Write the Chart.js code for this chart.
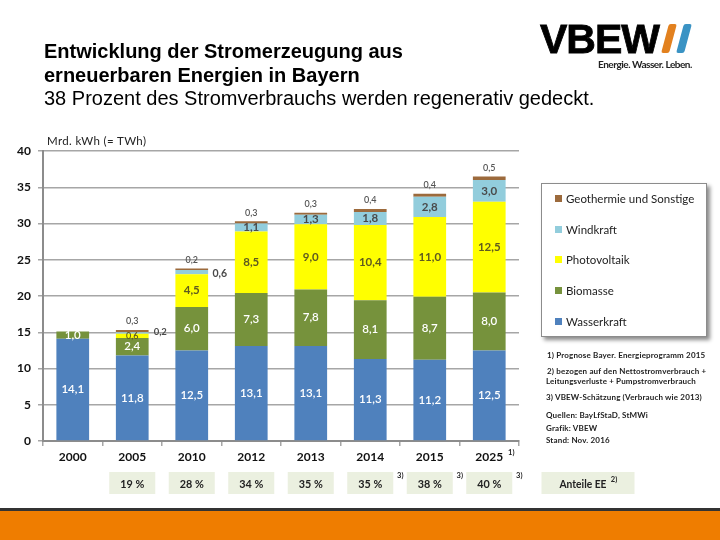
<!DOCTYPE html>
<html lang="de">

<head>
  <meta charset="UTF-8" />
  <title>Stromerzeugung Bayern</title>
  <script src="https://cdn.jsdelivr.net/npm/chart.js"></script>
  <style>
    body {
      margin: 0;
      background: #ffffff;
      font-family: Lato, sans-serif;
      color: #222222;
    }

    #stage {
      position: relative;
      width: 720px;
      height: 540px;
      overflow: hidden;
    }

    #stage canvas {
      position: absolute;
      left: 0;
      top: 0;
    }

    .title {
      position: absolute;
      left: 44px;
      top: 40px;
      font-family: 'Liberation Sans', sans-serif;
      font-size: 20px;
      line-height: 23.5px;
      color: #000000;
      white-space: nowrap;
    }

    .title b {
      display: block;
    }

    .logo-text {
      position: absolute;
      left: 540px;
      top: 14px;
      font-family: 'Liberation Sans', sans-serif;
      font-weight: 700;
      font-size: 41px;
      line-height: 50px;
      letter-spacing: -1px;
      color: #000000;
      -webkit-text-stroke: 0.8px #000000;
    }

    .logo-bar {
      position: absolute;
      top: 24px;
      width: 8px;
      height: 29px;
      border-radius: 2px;
      transform: skewX(-15deg);
    }

    .logo-tag {
      position: absolute;
      left: 598px;
      top: 58px;
      font-size: 10px;
      line-height: 13px;
      font-weight: 700;
      letter-spacing: -0.47px;
      white-space: nowrap;
    }

    .unit {
      position: absolute;
      left: 47px;
      top: 134px;
      font-size: 11.5px;
      line-height: 14px;
      letter-spacing: 0.35px;
      color: #222222;
    }

    #legend {
      position: absolute;
      left: 541px;
      top: 183px;
      width: 164px;
      height: 152px;
      border: 1px solid #8c8c8c;
      box-shadow: 3px 3px 4px #8a8a8a;
      background: #ffffff;
    }

    #legend div {
      position: absolute;
      left: 24px;
      font-size: 11.5px;
      line-height: 14px;
      letter-spacing: 0;
      white-space: nowrap;
    }

    #legend i {
      position: absolute;
      left: -11px;
      top: 3px;
      width: 7px;
      height: 7px;
    }

    .note {
      position: absolute;
      left: 546px;
      font-size: 8px;
      line-height: 10px;
      letter-spacing: 0.16px;
      font-weight: 700;
      color: #222222;
      white-space: nowrap;
    }

    .band {
      position: absolute;
      left: 0;
      top: 508px;
      width: 720px;
      height: 32px;
      background: #ef7d00;
      border-top: 3px solid #333333;
      box-sizing: border-box;
    }
  </style>
</head>

<body>
  <div id="stage">
    <canvas id="energyChart" width="720" height="540"></canvas>

    <div class="title">
      <b>Entwicklung der Stromerzeugung aus</b>
      <b>erneuerbaren Energien in Bayern</b>
      38 Prozent des Stromverbrauchs werden regenerativ gedeckt.
    </div>

    <div class="logo-text">VBEW</div>
    <div class="logo-bar" style="left:665px;background:#e2811f"></div>
    <div class="logo-bar" style="left:680px;background:#3a93c4"></div>
    <div class="logo-tag">Energie. Wasser. Leben.</div>

    <div class="unit">Mrd. kWh (= TWh)</div>
    <div id="legend"></div>

    <div class="note" style="top:350px;left:547px">1) Prognose Bayer. Energieprogramm 2015</div>
    <div class="note" style="top:366px;left:547px">2) bezogen auf den Nettostromverbrauch +</div>
    <div class="note" style="top:376px">Leitungsverluste + Pumpstromverbrauch</div>
    <div class="note" style="top:392px">3) VBEW-Schätzung (Verbrauch wie 2013)</div>
    <div class="note" style="top:410px">Quellen: BayLfStaD, StMWi</div>
    <div class="note" style="top:423px">Grafik: VBEW</div>
    <div class="note" style="top:435px">Stand: Nov. 2016</div>

    <div class="band"></div>
  </div>

  <script>
    const years = ['2000', '2005', '2010', '2012', '2013', '2014', '2015', '2025'];
    const wasserkraft = [14.1, 11.8, 12.5, 13.1, 13.1, 11.3, 11.2, 12.5];
    const biomasse = [1.0, 2.4, 6.0, 7.3, 7.8, 8.1, 8.7, 8.0];
    const photovoltaik = [0, 0.6, 4.5, 8.5, 9.0, 10.4, 11.0, 12.5];
    const windkraft = [0, 0.2, 0.6, 1.1, 1.3, 1.8, 2.8, 3.0];
    const geothermie = [0, 0.3, 0.2, 0.3, 0.3, 0.4, 0.4, 0.5];
    const shares = ['', '19 %', '28 %', '34 %', '35 %', '35 %', '38 %', '40 %'];
    const shareNotes = ['', '', '', '', '', '3)', '3)', '3)'];
    const yearNotes = ['', '', '', '', '', '', '', '1)'];
    const yTicks = [0, 5, 10, 15, 20, 25, 30, 35, 40];

    const GRID = '#a6a6a6';
    const AXIS = '#8c8c8c';
    const fmt = v => v.toFixed(1).replace('.', ',');

    const datasets = [
      { label: 'Wasserkraft', data: wasserkraft, backgroundColor: '#4f81bd', labelColor: '#ffffff' },
      { label: 'Biomasse', data: biomasse, backgroundColor: '#76923c', labelColor: '#ffffff' },
      { label: 'Photovoltaik', data: photovoltaik, backgroundColor: '#ffff00', labelColor: '#5f5a20' },
      { label: 'Windkraft', data: windkraft, backgroundColor: '#92cddc', labelColor: '#4a4a4a' },
      { label: 'Geothermie und Sonstige', data: geothermie, backgroundColor: '#9c6a3c', labelColor: '#555555' }
    ];

    // legend box, top entry is the top of the stack
    const legend = document.getElementById('legend');
    datasets.slice().reverse().forEach((ds, i) => {
      const row = document.createElement('div');
      row.style.top = (8 + i * 30.7) + 'px';
      row.innerHTML = `<i style="background:${ds.backgroundColor}"></i>${ds.label}`;
      legend.appendChild(row);
    });

    // value labels on the segments, small ones sit beside or above the bar
    const segmentLabels = {
      id: 'segmentLabels',
      afterDatasetsDraw(chart) {
        const ctx = chart.ctx;
        ctx.save();
        ctx.textAlign = 'center';
        ctx.textBaseline = 'middle';
        chart.data.datasets.forEach((ds, d) => {
          chart.getDatasetMeta(d).data.forEach((bar, i) => {
            const v = ds.data[i];
            if (!v) return;
            let x = bar.x;
            let y = (bar.y + bar.base) / 2;
            let font = d < 2 ? '600 11.5px Lato' : '700 11.5px Lato';
            if (d === 4) {
              y = bar.y - 8.5;
              font = '600 9px Lato';
            } else if (d === 3 && v < 1) {
              x = bar.x + 28;
              font = i === 1 ? '700 9.5px Lato' : '700 10.5px Lato';
              y = i === 1 ? y - 1 : y + 2;
            } else if (d === 2 && v < 1) {
              font = '600 9px Lato';
            }
            ctx.font = font;
            ctx.fillStyle = ds.labelColor;
            ctx.fillText(fmt(v), x, y);
          });
        });
        ctx.restore();
      }
    };

    // row of share boxes under the axis, plus the footnote marks
    const shareRow = {
      id: 'shareRow',
      afterDraw(chart) {
        const ctx = chart.ctx;
        const xs = chart.scales.x;
        const drawBox = (cx, w, text, tx, maxW) => {
          ctx.fillStyle = '#ebf0e0';
          ctx.fillRect(cx - w / 2, 472, w, 22);
          ctx.fillStyle = '#222222';
          ctx.font = '700 11.5px Lato';
          ctx.fillText(text, tx, 484, maxW);
        };
        ctx.save();
        ctx.textAlign = 'center';
        ctx.textBaseline = 'middle';
        shares.forEach((s, i) => {
          if (!s) return;
          const cx = xs.getPixelForValue(i);
          drawBox(cx, 46, s, cx, 24);
          if (shareNotes[i]) {
            ctx.font = '700 7.5px Lato';
            ctx.fillText(shareNotes[i], cx + 30, 476);
          }
        });
        yearNotes.forEach((n, i) => {
          if (!n) return;
          ctx.font = '700 7.5px Lato';
          ctx.fillStyle = '#222222';
          ctx.fillText(n, xs.getPixelForValue(i) + 22, 453);
        });
        drawBox(588, 93, 'Anteile EE', 583, 47);
        ctx.font = '700 7.5px Lato';
        ctx.fillText('2)', 614, 480);
        ctx.restore();
      }
    };

    new Chart(document.getElementById('energyChart').getContext('2d'), {
      type: 'bar',
      data: { labels: years, datasets },
      plugins: [segmentLabels, shareRow],
      options: {
        responsive: false,
        animation: false,
        devicePixelRatio: 1,
        barPercentage: 0.55,
        categoryPercentage: 1,
        layout: { padding: { top: 151, right: 201, left: 0, bottom: 0 } },
        plugins: { legend: { display: false }, tooltip: { enabled: false } },
        scales: {
          x: {
            stacked: true,
            afterFit(scale) { scale.height = 99; },
            grid: { drawOnChartArea: false, drawTicks: true, tickLength: 5, color: GRID, lineWidth: 1.5 },
            border: { color: AXIS, width: 2 },
            ticks: { color: '#111111', font: { family: 'Lato', size: 12, weight: '700' }, padding: 4 }
          },
          y: {
            stacked: true,
            min: 0,
            max: 40,
            afterFit(scale) { scale.width = 43; },
            afterBuildTicks(scale) { scale.ticks = yTicks.map(value => ({ value })); },
            grid: { color: GRID, lineWidth: 1.5, tickLength: 5 },
            border: { color: AXIS, width: 2 },
            ticks: { color: '#111111', font: { family: 'Lato', size: 12, weight: '700' }, padding: 7 }
          }
        }
      }
    });
  </script>
</body>

</html>
